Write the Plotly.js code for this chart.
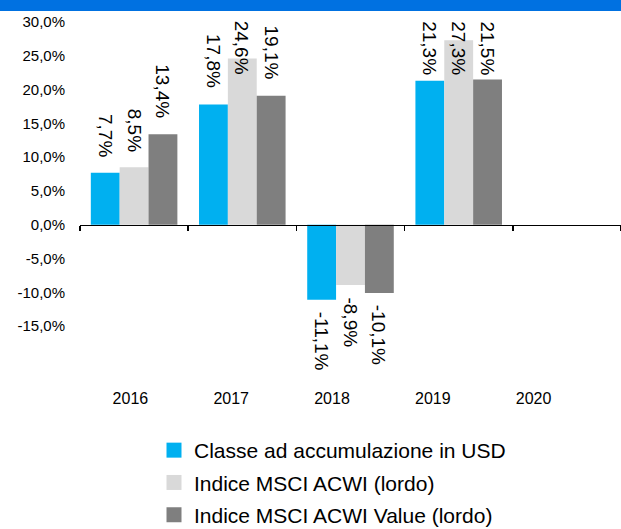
<!DOCTYPE html>
<html>
<head>
<meta charset="utf-8">
<script src="https://cdn.plot.ly/plotly-3.0.1.min.js"></script>
<style>html,body{margin:0;padding:0;background:#fff}#chart{width:621px;height:529px}</style>
</head>
<body>
<div id="chart"></div>
<script>
// ---- data ----
var years = ['2016', '2017', '2018', '2019', '2020'];
var classeUSD = [7.7, 17.8, -11.1, 21.3, null];
var msciAcwi = [8.5, 24.6, -8.9, 27.3, null];
var msciAcwiValue = [13.4, 19.1, -10.1, 21.5, null];
var seriesNames = ['Classe ad accumulazione in USD', 'Indice MSCI ACWI (lordo)', 'Indice MSCI ACWI Value (lordo)'];
var yTickVals = [-15, -10, -5, 0, 5, 10, 15, 20, 25, 30];

// ---- styling ----
var colors = ['#00B0F0', '#D9D9D9', '#7F7F7F'];
var FONT = '"Liberation Sans", Arial, sans-serif';
var W = 621, H = 529;
var M = {l: 80, r: 0, t: 22, b: 146, autoexpand: false};
var yMin = -23.4, yMax = 30;
var bargap = 0.2;
var labelSize = 19;

function fmt(v) { return v.toFixed(1).replace('.', ',') + '%'; }

var series = [classeUSD, msciAcwi, msciAcwiValue];
var traces = [];
series.forEach(function (vals, s) {
  traces.push({
    type: 'bar', x: years, y: vals, name: seriesNames[s],
    marker: {color: colors[s], line: {width: 0}},
    showlegend: false, hoverinfo: 'skip', xaxis: 'x', yaxis: 'y'
  });
});
// label axis helper trace
traces.push({type: 'scatter', mode: 'none', x: years, y: years.map(function () { return null; }),
  xaxis: 'x2', yaxis: 'y', showlegend: false, hoverinfo: 'skip'});
// legend proxies
series.forEach(function (vals, s) {
  traces.push({type: 'scatter', mode: 'markers', x: [null], y: [null], name: seriesNames[s],
    legendgroup: 'g' + s,
    marker: {symbol: 'square', size: 15, color: colors[s]}, xaxis: 'x2', yaxis: 'y', hoverinfo: 'skip'});
});

var plotH = H - M.t - M.b;
var ppu = plotH / (yMax - yMin);
var canvas = document.createElement('canvas');
var ctx = canvas.getContext('2d');
ctx.font = labelSize + 'px "Liberation Sans"';

var annotations = [];
var bw = (1 - bargap) / 3;
series.forEach(function (vals, s) {
  vals.forEach(function (v, i) {
    if (v === null) return;
    var txt = fmt(v);
    var len = ctx.measureText(txt).width;
    var xpos = i + (s - 1) * bw;
    var a = {x: xpos, xref: 'x', text: txt, showarrow: false, textangle: 90,
      font: {family: FONT, size: labelSize, color: '#000'}, xanchor: 'center'};
    if (v >= 0) {
      var topPx = M.t + (yMax - v) * ppu;
      if (topPx - 16 - len < 18) {
        a.yref = 'paper'; a.y = 1; a.yanchor = 'top'; a.yshift = M.t - 19;
      } else {
        a.yref = 'y'; a.y = v; a.yanchor = 'bottom'; a.yshift = 14;
      }
    } else {
      a.yref = 'y'; a.y = v; a.yanchor = 'top'; a.yshift = -10;
    }
    annotations.push(a);
  });
});

var layout = {
  width: W, height: H,
  margin: M,
  paper_bgcolor: '#fff', plot_bgcolor: 'rgba(0,0,0,0)',
  font: {family: FONT, color: '#000'},
  barmode: 'group', bargap: bargap, bargroupgap: 0,
  showlegend: true,
  legend: {orientation: 'v', xref: 'paper', yref: 'paper', x: 74 / 541, y: -47 / plotH,
    xanchor: 'left', yanchor: 'top', font: {family: FONT, size: 21, color: '#000'},
    bgcolor: 'rgba(0,0,0,0)', tracegroupgap: 2, itemclick: false},
  xaxis: {type: 'category', range: [-0.5, 4.5], domain: [0, 1], anchor: 'free',
    position: (0 - yMin) / (yMax - yMin), showline: true, linecolor: '#000', linewidth: 1.5,
    ticks: 'outside', tickson: 'boundaries', ticklen: 5, tickcolor: '#000', tickwidth: 1.5,
    showticklabels: false, showgrid: false, zeroline: false, fixedrange: true},
  xaxis2: {type: 'category', categoryorder: 'array', categoryarray: years, range: [-0.5, 4.5],
    domain: [0, 504 / 541], anchor: 'free', position: 0, showline: false, ticks: '',
    showgrid: false, zeroline: false, tickfont: {family: FONT, size: 16, color: '#000'},
    tickangle: 0, ticklabelstandoff: 4, fixedrange: true},
  yaxis: {range: [yMin, yMax], tickvals: yTickVals, ticktext: yTickVals.map(fmt),
    showgrid: false, zeroline: false, showline: false, ticks: '',
    tickfont: {family: FONT, size: 15, color: '#000'}, ticklabelstandoff: 14, fixedrange: true},
  annotations: annotations,
  shapes: [
    {type: 'rect', xref: 'paper', yref: 'paper', x0: -0.2, x1: 1.1,
      y0: 1 + (M.t - 11) / plotH, y1: 1 + (M.t + 10) / plotH,
      fillcolor: '#0071E1', line: {width: 0}, layer: 'above'}
  ]
};

Plotly.newPlot('chart', traces, layout, {displayModeBar: false, staticPlot: true});
</script>
</body>
</html>
